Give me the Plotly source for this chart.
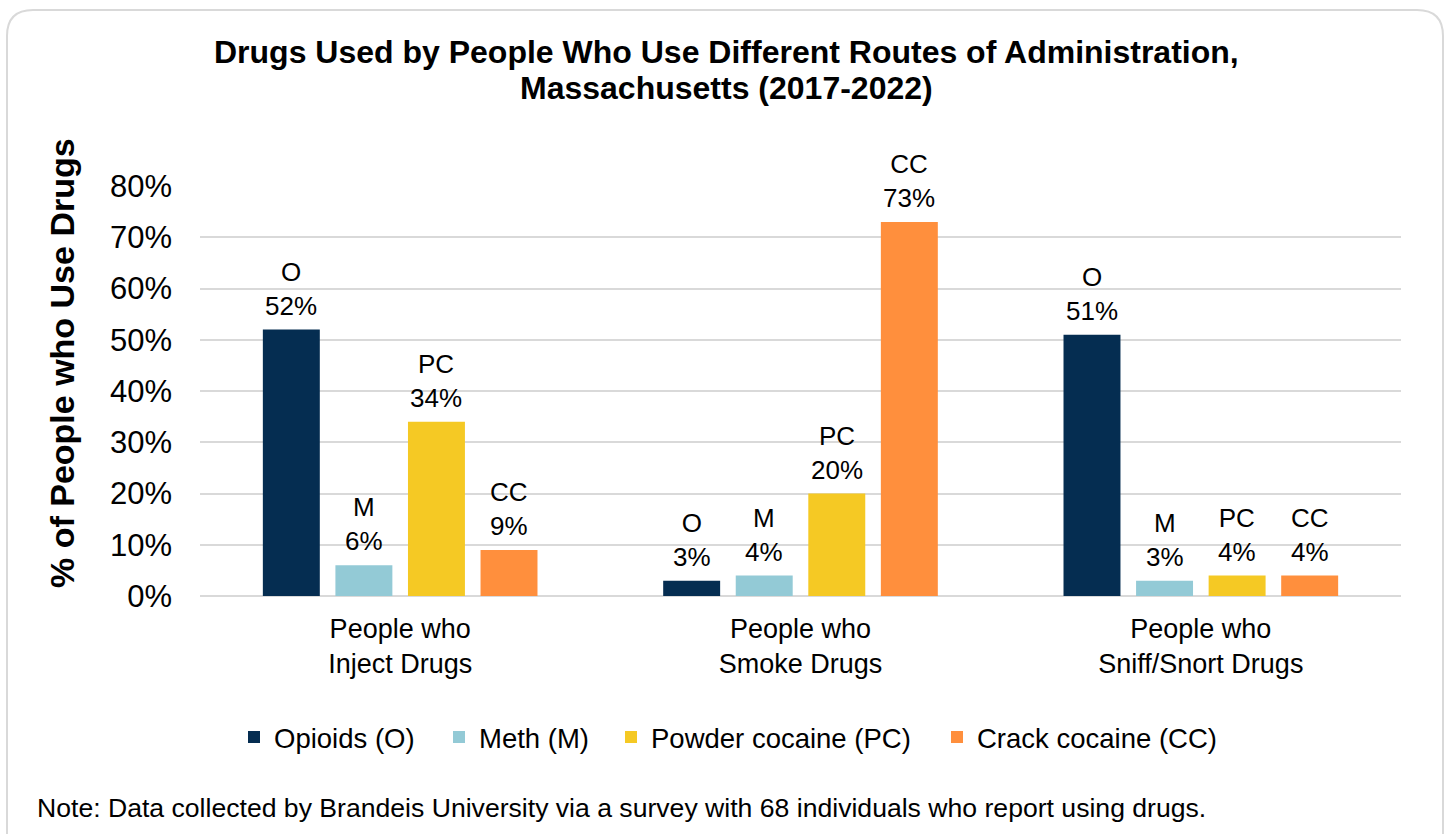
import plotly.graph_objects as go

categories = ["People who<br>Inject Drugs", "People who<br>Smoke Drugs", "People who<br>Sniff/Snort Drugs"]
series_names = ["Opioids (O)", "Meth (M)", "Powder cocaine (PC)", "Crack cocaine (CC)"]
series_abbr = ["O", "M", "PC", "CC"]
opioids = [52, 3, 51]
meth = [6, 4, 3]
powder = [34, 20, 4]
crack = [9, 73, 4]
colors = ["#052D51", "#93CAD6", "#F5C924", "#FF8F3D"]
y_ticks = [0, 10, 20, 30, 40, 50, 60, 70, 80]

FONT = "Liberation Sans, Arial, sans-serif"

# plot area in pixels (for converting decorative positions)
L, R, T, B = 200, 1401, 186, 596
def px(x):
    return (x - L) / (R - L)
def py(y):
    return (B - y) / (B - T)

SLOT = 72.6                      # pixel spacing of bars within a group
legend_text_x = [275, 480, 652, 978]

fig = go.Figure()
all_vals = [opioids, meth, powder, crack]
for i, (name, abbr, vals, col) in enumerate(zip(series_names, series_abbr, all_vals, colors)):
    lg = "legend" if i == 0 else f"legend{i + 1}"
    fig.add_trace(go.Bar(
        x=categories, y=vals, name=name,
        marker=dict(color=col, line=dict(width=0)),
        legend=lg,
    ))
    for c, v in zip(categories, vals):
        fig.add_annotation(
            x=c, y=v, xref="x", yref="y", text=f"{abbr}<br>{v}%",
            xshift=(i - 1.5) * SLOT, yshift=7,
            xanchor="center", yanchor="bottom", showarrow=False,
            font=dict(family=FONT, size=26, color="black"),
        )

# rounded border
x0, y0, x1, y1, r = 7, 10, 1443, 850, 26
path = (f"M{px(x0)},{py(y0 + r)} Q{px(x0)},{py(y0)} {px(x0 + r)},{py(y0)} "
        f"L{px(x1 - r)},{py(y0)} Q{px(x1)},{py(y0)} {px(x1)},{py(y0 + r)} "
        f"L{px(x1)},{py(y1)} L{px(x0)},{py(y1)} Z")
fig.add_shape(type="path", path=path, xref="paper", yref="paper",
              line=dict(color="#D9D9D9", width=2), fillcolor="rgba(0,0,0,0)", layer="below")

legend_common = dict(orientation="h", xanchor="left", y=py(737), yanchor="middle",
                     font=dict(family=FONT, size=27.5, color="black"),
                     itemwidth=30, bgcolor="rgba(0,0,0,0)")
legends = {}
for i, tx in enumerate(legend_text_x):
    key = "legend" if i == 0 else f"legend{i + 1}"
    legends[key] = dict(legend_common, x=px(tx - 41))

fig.update_layout(
    width=1448, height=834,
    margin=dict(l=L, r=1448 - R, t=T, b=834 - B),
    paper_bgcolor="white", plot_bgcolor="white",
    barmode="group", bargap=0.275, bargroupgap=0.215,
    font=dict(family=FONT, color="black"),
    showlegend=True,
    **legends,
)
fig.add_annotation(
    text="<b>Drugs Used by People Who Use Different Routes of Administration,</b>",
    x=px(726), y=py(52), xref="paper", yref="paper",
    xanchor="center", yanchor="middle", showarrow=False,
    font=dict(family=FONT, size=32, color="black"),
)
fig.add_annotation(
    text="<b>Massachusetts (2017-2022)</b>",
    x=px(726), y=py(88), xref="paper", yref="paper",
    xanchor="center", yanchor="middle", showarrow=False,
    font=dict(family=FONT, size=32, color="black"),
)
fig.update_yaxes(
    range=[0, 80], tickvals=y_ticks, ticktext=[f"{v}%" for v in y_ticks],
    showgrid=True, gridcolor="#D9D9D9", gridwidth=2,
    zeroline=True, zerolinecolor="#D9D9D9", zerolinewidth=2,
    showline=False, ticks="", ticklen=0, ticklabelstandoff=27,
    tickfont=dict(family=FONT, size=31, color="black"),
)
fig.update_xaxes(
    showgrid=False, showline=False, ticks="", ticklabelstandoff=14,
    tickfont=dict(family=FONT, size=27, color="black"),
)
fig.add_annotation(
    text="<b>% of People who Use Drugs</b>", textangle=-90,
    x=px(62), y=py(363), xref="paper", yref="paper",
    xanchor="center", yanchor="middle", showarrow=False,
    font=dict(family=FONT, size=34, color="black"),
)
fig.add_annotation(
    text="Note: Data collected by Brandeis University via a survey with 68 individuals who report using drugs.",
    x=px(35), y=py(808), xref="paper", yref="paper",
    xanchor="left", yanchor="middle", showarrow=False,
    font=dict(family=FONT, size=26.6, color="black"),
)

fig.write_html("out.html")
